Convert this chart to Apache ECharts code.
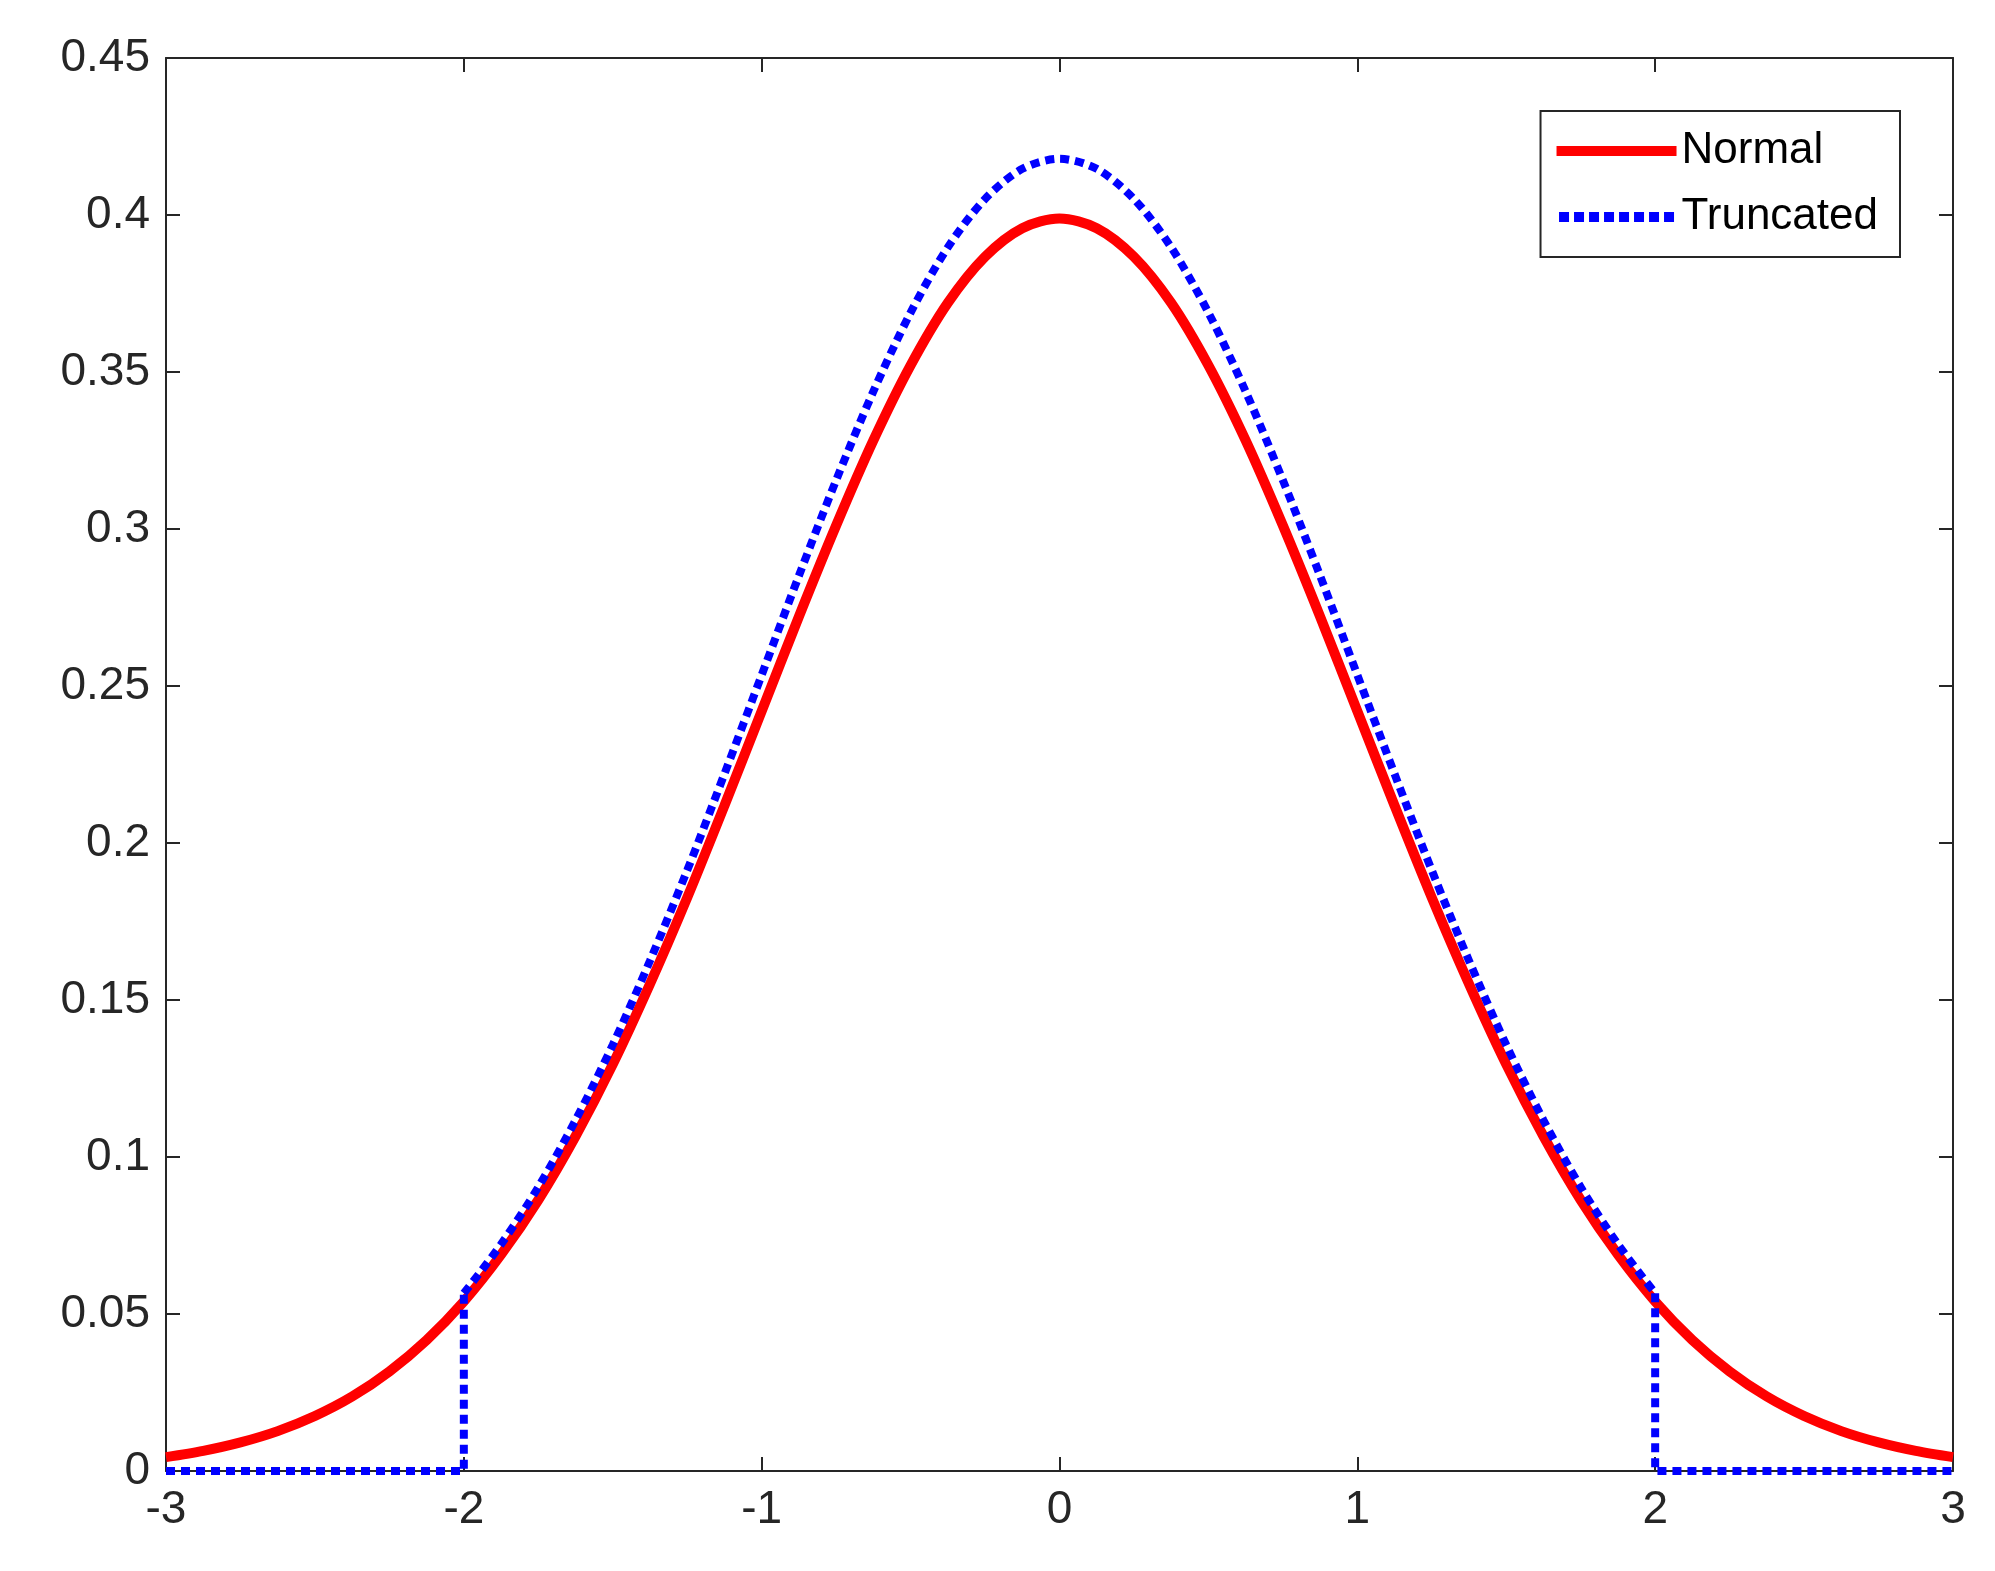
<!DOCTYPE html>
<html><head><meta charset="utf-8">
<script src="https://cdn.jsdelivr.net/npm/echarts@6/dist/echarts.min.js"></script>
<style>html,body{margin:0;background:#fff}#c{width:1995px;height:1571px}</style>
</head><body><div id="c"></div>
<script>
// right half (x = 0 .. 3, step 0.125)
const xHalf = [0, 0.125, 0.25, 0.375, 0.5, 0.625, 0.75, 0.875, 1, 1.125, 1.25, 1.375, 1.5, 1.625, 1.75, 1.875, 2,
  2.125, 2.25, 2.375, 2.5, 2.625, 2.75, 2.875, 3];
const normalHalf = [0.3989, 0.3958, 0.3867, 0.3720, 0.3521, 0.3282, 0.3011, 0.2721, 0.2420, 0.2119, 0.1826, 0.1551,
  0.1295, 0.1066, 0.0863, 0.0689, 0.0540, 0.0417, 0.0317, 0.0237, 0.0175, 0.0127, 0.0091, 0.0064, 0.0044];
const truncHalf = [0.4179, 0.4147, 0.4051, 0.3897, 0.3689, 0.3438, 0.3155, 0.2851, 0.2535, 0.2220, 0.1913, 0.1625,
  0.1357, 0.1117, 0.0904, 0.0722, 0.0566];

function mirror(xs, ys) {
  const left = [], right = [];
  for (let i = ys.length - 1; i > 0; i--) left.push([-xs[i], ys[i]]);
  for (let i = 0; i < ys.length; i++) right.push([xs[i], ys[i]]);
  return left.concat(right);
}
const normalData = mirror(xHalf, normalHalf);
const truncCore = mirror(xHalf, truncHalf);
const truncLeft = [[-3, 0], [-2, 0], [-2, truncHalf[truncHalf.length - 1]]];
const truncRight = [[2, truncHalf[truncHalf.length - 1]], [2, 0], [3, 0]];

const font = 'Liberation Sans, Arial, sans-serif';
const tickAxis = (show) => ({
  axisLine: { show: true, onZero: false, lineStyle: { color: '#262626', width: 2 } },
  axisTick: { show: true, inside: true, length: 14, lineStyle: { color: '#262626', width: 2 } },
  axisLabel: { show: show, color: '#262626', fontSize: 46, fontFamily: font, margin: 16 },
  splitLine: { show: false }
});
const blue = { color: '#0000ff', width: 8, type: [9, 6] };

const chart = echarts.init(document.getElementById('c'));
chart.setOption({
  backgroundColor: '#fff',
  animation: false,
  grid: { left: 166, right: 42, top: 58, bottom: 100 },
  legend: {
    right: 95, top: 111, orient: 'vertical', itemGap: 22,
    itemWidth: 120, itemHeight: 10,
    padding: [18, 22, 18, 16],
    borderColor: '#262626', borderWidth: 2, backgroundColor: '#fff',
    textStyle: { fontSize: 44, fontFamily: font, color: '#000' },
    data: [
      { name: 'Normal', icon: 'rect' },
      { name: 'Truncated', icon: 'path://M0,0h10v10h-10z M15,0h10v10h-10z M30,0h10v10h-10z M45,0h10v10h-10z M60,0h10v10h-10z M75,0h10v10h-10z M90,0h10v10h-10z M105,0h10v10h-10z' }
    ]
  },
  xAxis: [
    Object.assign({ type: 'value', min: -3, max: 3, interval: 1, position: 'bottom' }, tickAxis(true)),
    Object.assign({ type: 'value', min: -3, max: 3, interval: 1, position: 'top' }, tickAxis(false))
  ],
  yAxis: [
    Object.assign({ type: 'value', min: 0, max: 0.45, interval: 0.05, position: 'left' }, tickAxis(true)),
    Object.assign({ type: 'value', min: 0, max: 0.45, interval: 0.05, position: 'right' }, tickAxis(false))
  ],
  series: [
    { name: 'Normal', type: 'line', data: normalData, showSymbol: false, smooth: 0.3,
      lineStyle: { color: '#ff0000', width: 10 }, itemStyle: { color: '#ff0000' }, z: 2 },
    { name: 'Truncated', type: 'line', data: truncCore, showSymbol: false, smooth: 0.3,
      lineStyle: blue, itemStyle: { color: '#0000ff' }, z: 3 },
    { name: 'Truncated', type: 'line', data: truncLeft, showSymbol: false,
      lineStyle: blue, itemStyle: { color: '#0000ff' }, z: 3 },
    { name: 'Truncated', type: 'line', data: truncRight, showSymbol: false,
      lineStyle: blue, itemStyle: { color: '#0000ff' }, z: 3 }
  ]
});
</script></body></html>
